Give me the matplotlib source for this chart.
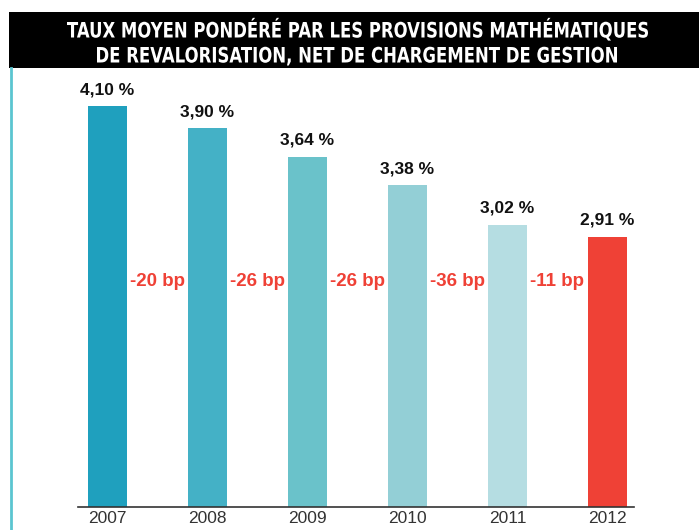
import matplotlib.pyplot as plt
import matplotlib.transforms as mtransforms
from matplotlib.patches import Rectangle, PathPatch
from matplotlib.lines import Line2D
from matplotlib.textpath import TextPath
from matplotlib.font_manager import FontProperties

years = ['2007', '2008', '2009', '2010', '2011', '2012']
rates = [4.10, 3.90, 3.64, 3.38, 3.02, 2.91]
rate_labels = ['4,10 %', '3,90 %', '3,64 %', '3,38 %', '3,02 %', '2,91 %']
deltas = ['-20 bp', '-26 bp', '-26 bp', '-36 bp', '-11 bp']
bar_colors = ['#1FA0BE', '#44B1C6', '#6AC2CA', '#93CFD6', '#B5DDE2', '#EF4136']

title_lines = ['TAUX MOYEN PONDÉRÉ PAR LES PROVISIONS MATHÉMATIQUES',
               'DE REVALORISATION, NET DE CHARGEMENT DE GESTION']

W, H = 699, 530
fig = plt.figure(figsize=(W / 100, H / 100), dpi=100)
fig.patch.set_facecolor('white')

# title banner
fig.patches.append(Rectangle((9 / W, 1 - 68 / H), 690 / W, 56 / H,
                             transform=fig.transFigure, facecolor='black',
                             edgecolor='none', zorder=1))

# condensed title: text paths squeezed horizontally (no narrow font available)
fp = FontProperties(family='DejaVu Sans', weight='bold')
cap_h = TextPath((0, 0), 'H', size=1, prop=fp).get_extents().height
cap_px = 15.5
sy = cap_px / cap_h
for line, (x0, x1, base) in zip(title_lines, [(67, 648, 37.5), (97, 617, 62.5)]):
    tp = TextPath((0, 0), line, size=1, prop=fp)
    ext = tp.get_extents()
    sx = (x1 - x0) / ext.width
    tr = mtransforms.Affine2D().translate(-ext.x0, 0).scale(sx, sy).translate(x0, H - base)
    fig.patches.append(PathPatch(tr.transform_path(tp), facecolor='white',
                                 edgecolor='none', lw=0,
                                 transform=mtransforms.IdentityTransform(), zorder=2))

# cyan rule on the left
fig.lines.append(Line2D([10.5 / W, 10.5 / W], [0, 1 - 68 / H],
                        transform=fig.transFigure, color='#5BC5D0', lw=2))

ax = fig.add_axes([78 / W, 23 / H, 556 / W, 427 / H])
x = list(range(len(years)))
ax.bar(x, rates, width=0.39, color=bar_colors, zorder=2)
ax.set_xlim(-0.295, 5.265)
ax.set_ylim(0.455, 0.455 + 427 / 110)

for s in ['top', 'right', 'left']:
    ax.spines[s].set_visible(False)
ax.spines['bottom'].set_color('#333333')
ax.spines['bottom'].set_linewidth(1.2)
ax.set_yticks([])
ax.set_xticks(x)
ax.set_xticklabels(years, fontsize=12.5, color='#333333', family='Liberation Sans')
ax.tick_params(axis='x', length=0, pad=3)

for i, (v, lab) in enumerate(zip(rates, rate_labels)):
    ax.annotate(lab, (i, v), xytext=(0, 6.5), textcoords='offset points',
                ha='center', va='bottom', fontsize=12.5, fontweight='bold',
                color='#111111', family='Liberation Sans')

trans = mtransforms.blended_transform_factory(ax.transData, ax.transAxes)
for i, d in enumerate(deltas):
    ax.text(i + 0.5, 0.529, d, transform=trans, ha='center', va='center',
            fontsize=13.5, fontweight='bold', color='#EF4136',
            family='Liberation Sans')

fig.savefig('out.png', dpi=100)
